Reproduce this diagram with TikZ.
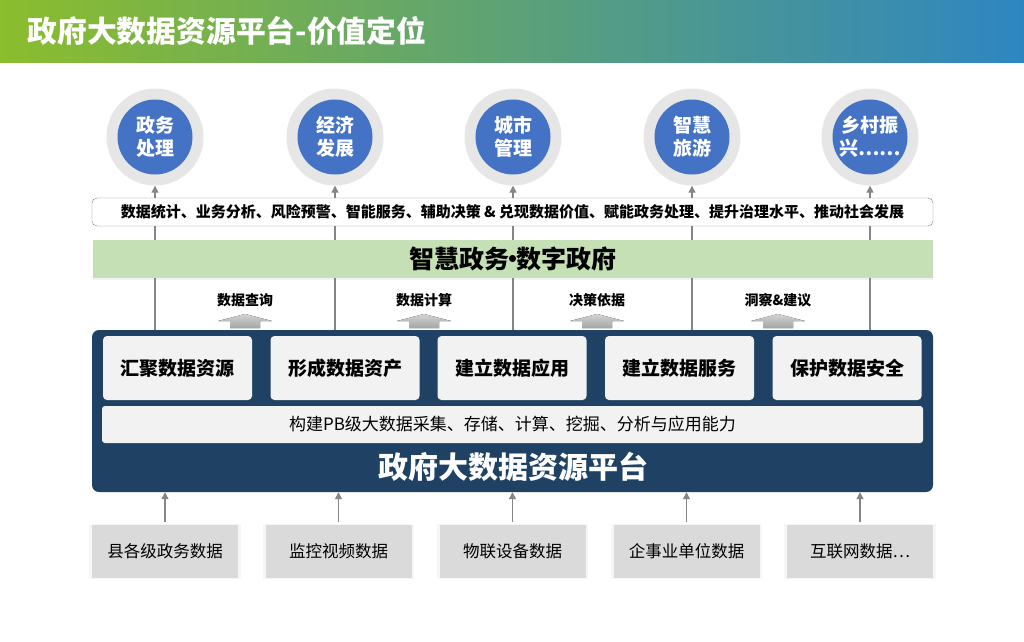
\documentclass[tikz,border=0pt]{standalone}
\usepackage{fontspec}
\setmainfont{Noto Sans CJK SC}
\usepackage{tikz}
\usetikzlibrary{
  arrows.meta,
  positioning,
  calc,
  shadows
}
\definecolor{govBlue}{HTML}{4472C4}
\definecolor{govNavy}{HTML}{1E4164}
\definecolor{govGreen}{HTML}{C5E0B4}
\definecolor{govLime}{HTML}{8BBD2D}
\definecolor{govSky}{HTML}{2E86C1}
\definecolor{govRing}{HTML}{E6E6E6}
\definecolor{govTile}{HTML}{F2F2F2}
\definecolor{govSrc}{HTML}{DADADA}
\definecolor{govLine}{HTML}{858585}

\begin{document}
\begin{tikzpicture}[x=1pt, y=-1pt,
  ringnode/.style={circle, fill=govRing, minimum size=97pt, inner sep=0pt},
  goalnode/.style={circle, fill=govBlue, minimum size=75pt, inner sep=0pt, text=white, align=center,
    font=\fontsize{19}{23}\selectfont\bfseries},
  tilebox/.style={rounded corners=4pt, fill=govTile, minimum width=149pt, minimum height=64pt,
    font=\fontsize{19}{22}\selectfont\bfseries},
  srcbox/.style={fill=govSrc, minimum width=146pt, minimum height=53pt,
    font=\fontsize{16.5}{19}\selectfont,
    drop shadow={shadow xshift=0pt, shadow yshift=0pt, shadow scale=1.04, opacity=0.07}},
  flowlabel/.style={font=\fontsize{14}{16}\selectfont\bfseries},
  flowline/.style={draw=govLine, line width=1.2pt},
  flowarrow/.style={flowline, -{Triangle[length=7pt, width=7pt]}},
  blockarrow/.style={top color=gray!35, bottom color=gray!70}
]
  \useasboundingbox (0,0) rectangle (1024,641);
  \fill[white] (0,0) rectangle (1024,641);

  % title bar
  \shade[left color=govLime, right color=govSky] (0,0) rectangle (1024,62);
  \node[anchor=west, text=white, font=\fontsize{29.8}{32}\selectfont\bfseries] (title) at (24,31) {政府大数据资源平台-价值定位};

  % goals
  \foreach \i/\x/\txt in {1/155/{政务\\处理}, 2/335/{经济\\发展}, 3/513/{城市\\管理}, 4/692/{智慧\\旅游}, 5/870/{乡村振\\兴……}} {
    \node[ringnode] (ring\i) at (\x,137) {};
    \node[goalnode] (goal\i) at (\x,137) {\txt};
  }

  \node[draw=govLine, fill=white, rounded corners=5pt, minimum width=841pt, minimum height=28pt,
    font=\fontsize{15}{16}\selectfont\bfseries] (valuebar) at (512.5,212)
    {数据统计、业务分析、风险预警、智能服务、辅助决策 \& 兑现数据价值、赋能政务处理、提升治理水平、推动社会发展};

  \node[fill=govGreen, minimum width=840pt, minimum height=38pt, font=\fontsize{25}{28}\selectfont\bfseries,
    drop shadow={shadow xshift=0pt, shadow yshift=-2pt, opacity=0.1}] (band) at (513,259)
    {智慧政务\makebox[0.3em]{·}数字政府};

  % platform
  \node[fill=govNavy, rounded corners=7pt, minimum width=841pt, minimum height=162pt] (platform) at (512.5,411) {};
  \node[tilebox] (tile1) at (177.5,368) {汇聚数据资源};
  \node[tilebox] (tile2) at (345,368) {形成数据资产};
  \node[tilebox] (tile3) at (512,368) {建立数据应用};
  \node[tilebox] (tile4) at (679.5,368) {建立数据服务};
  \node[tilebox] (tile5) at (847,368) {保护数据安全};
  \node[rounded corners=3pt, fill=govTile, minimum width=821pt, minimum height=37pt,
    font=\fontsize{17}{19}\selectfont] (ability) at (512.5,424.5) {构建PB级大数据采集、存储、计算、挖掘、分析与应用能力};
  \node[text=white, font=\fontsize{30}{32}\selectfont\bfseries] (platformtitle) at (513,467) {政府大数据资源平台};

  % links between layers
  \foreach \i in {1,2,3,4,5} {
    \draw[flowarrow] (valuebar.north -| goal\i) -- (ring\i.south);
    \draw[flowline] (valuebar.south -| goal\i) -- (band.north -| goal\i);
    \draw[flowline] (band.south -| goal\i) -- (platform.north -| goal\i);
  }

  \foreach \i/\x/\txt in {1/245/数据查询, 2/424/数据计算, 3/597/决策依据, 4/778/{洞察\&建议}} {
    \node[flowlabel] (lbl\i) at (\x,300) {\txt};
    \fill[blockarrow] (lbl\i) ++(0,14) -- ++(27,7) -- ++(-12,0) -- ++(0,7) -- ++(-30,0) -- ++(0,-7) -- ++(-12,0) -- cycle;
  }

  % data sources
  \foreach \i/\x/\txt in {1/165/县各级政务数据, 2/338.5/监控视频数据, 3/512.5/物联设备数据, 4/686.5/企事业单位数据, 5/860/{互联网数据\ldots}} {
    \node[srcbox] (src\i) at (\x,551.5) {\txt};
    \draw[flowarrow, shorten <=3pt] (src\i.north) -- (platform.south -| src\i);
  }
\end{tikzpicture}
\end{document}
